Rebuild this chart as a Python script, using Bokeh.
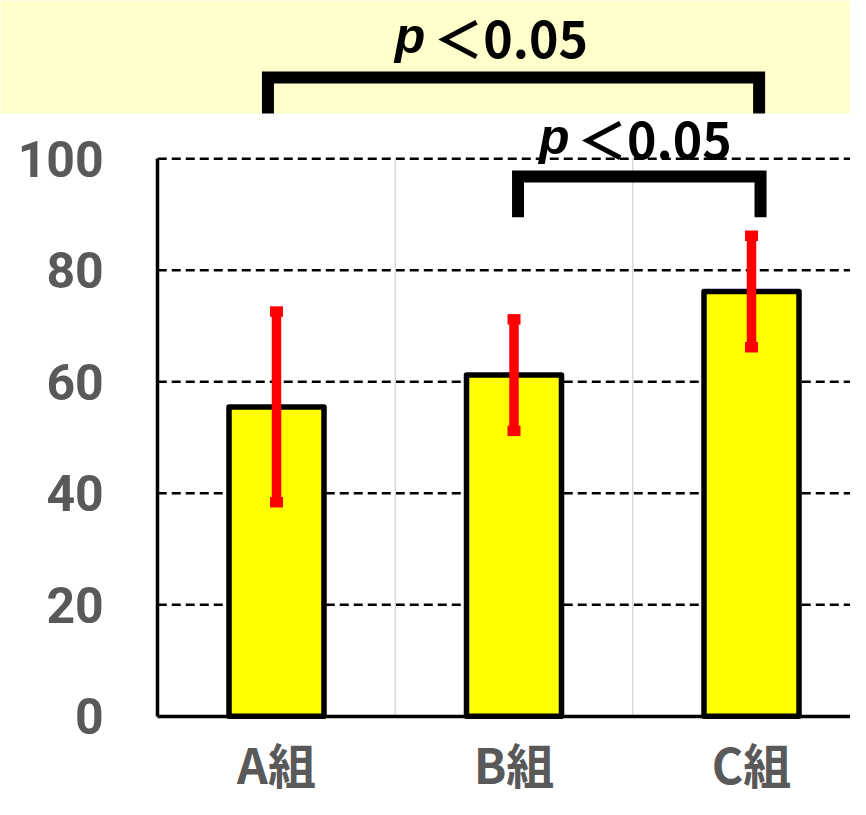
from bokeh.plotting import figure
from bokeh.models import Range1d, FixedTicker, Whisker, TeeHead, ColumnDataSource
from bokeh.core.properties import value
from bokeh.embed import file_html
from bokeh.resources import INLINE

# ---- data ----
categories = ["A組", "B組", "C組"]
means = [55.5, 61.2, 76.2]
errors = [17.1, 10.0, 10.0]
y_ticks = [0, 20, 40, 60, 80, 100]
comparisons = [(0, 2), (1, 2)]
p_symbol = ["p", "p"]
p_rest = ["＜0.05", "＜0.05"]

xs = list(range(len(categories)))
upper = [m + e for m, e in zip(means, errors)]
lower = [m - e for m, e in zip(means, errors)]

YELLOW_BG = "#FFFFCC"
X0, X1 = -1.1621, 2.4168
Y0, Y1 = -14.92, 128.39
PANEL_TOP = 108.13          # value at the top edge of the white panel
AXIS_X = xs[0] - 0.5        # y axis sits at the left edge of the first category
PAD = 1.0                   # let background bands overrun the visible range

p = figure(width=850, height=799, x_range=Range1d(X0, X1), y_range=Range1d(Y0, Y1),
           output_backend="svg", toolbar_location=None,
           min_border_left=0, min_border_right=0, min_border_top=0, min_border_bottom=0,
           background_fill_color="white", border_fill_color="white",
           outline_line_color=None)

# background band
p.quad(left=[X0 - PAD], right=[X1 + PAD], bottom=[PANEL_TOP], top=[Y1 + 10 * PAD],
       fill_color=YELLOW_BG, line_color=None)

p.grid.visible = False

# y axis
yax = p.yaxis[0]
yax.fixed_location = AXIS_X
yax.ticker = FixedTicker(ticks=y_ticks)
yax.bounds = (y_ticks[0], y_ticks[-1])
yax.axis_line_width = 3.5
yax.axis_line_color = "black"
yax.major_tick_line_color = None
yax.minor_tick_line_color = None
yax.major_tick_out = 0
yax.major_tick_in = 0
yax.minor_tick_out = 0
yax.minor_tick_in = 0
yax.major_label_standoff = 54
yax.major_label_text_font = "Roboto"
yax.major_label_text_font_style = "bold"
yax.major_label_text_font_size = "50px"
yax.major_label_text_color = "#595959"

# x axis
xax = p.xaxis[0]
xax.fixed_location = 0
xax.bounds = (AXIS_X, X1)
xax.ticker = FixedTicker(ticks=xs)
xax.major_label_overrides = {i: c for i, c in zip(xs, categories)}
xax.axis_line_width = 3.5
xax.axis_line_color = "black"
xax.major_tick_line_color = None
xax.minor_tick_line_color = None
xax.major_tick_out = 0
xax.major_tick_in = 0
xax.minor_tick_out = 0
xax.minor_tick_in = 0
xax.major_label_standoff = 12
xax.major_label_text_font = "Noto Sans CJK JP"
xax.major_label_text_font_style = "bold"
xax.major_label_text_font_size = "48px"
xax.major_label_text_color = "#595959"

# dashed horizontal gridlines, starting at the y axis
n = len(y_ticks)
p.segment(x0=[AXIS_X] * n, y0=y_ticks, x1=[X1 + PAD] * n, y1=y_ticks,
          line_color="black", line_width=2.5, line_dash="9 5")

# category separators
seps = [i + 0.5 for i in xs[:-1]]
p.segment(x0=seps, y0=[y_ticks[0]] * len(seps), x1=seps, y1=[y_ticks[-1]] * len(seps),
          line_color="#D9D9D9", line_width=1.5)

# bars
p.vbar(x=xs, top=means, bottom=0, width=0.4, fill_color="#FFFF00",
       line_color="black", line_width=5.5, line_join="round")

# error bars
src = ColumnDataSource(dict(base=xs, upper=upper, lower=lower))
wh = Whisker(source=src, base="base", upper="upper", lower="lower", level="overlay",
             line_color="#FF0000", line_width=9.5, line_cap="butt",
             upper_head=TeeHead(size=13, line_color="#FF0000", line_width=10.5),
             lower_head=TeeHead(size=13, line_color="#FF0000", line_width=10.5))
p.add_layout(wh)

# significance brackets:
# (left offset, right offset, bar level, leg bottom, p right x, rest left x, text y)
layouts = [
    (-0.036, 0.032, 114.6, PANEL_TOP, 0.627, 0.660, 122.1),
    (0.017, 0.038, 96.8, 89.5, 1.234, 1.265, 103.9),
]
for (i, j), ps, pr, (lo, ro, ybar, yleg, xp, xr, ytxt) in zip(comparisons, p_symbol, p_rest, layouts):
    x0, x1 = xs[i] + lo, xs[j] + ro
    p.line(x=[x0, x0, x1, x1], y=[yleg, ybar, ybar, yleg], line_color="black",
           line_width=12, line_join="miter", line_cap="butt")
    p.text(x=[xp], y=[ytxt], text=[ps], text_font=value("Liberation Sans"),
           text_font_style="bold italic", text_font_size="50px", text_color="black",
           text_align="right", text_baseline="alphabetic")
    p.text(x=[xr], y=[ytxt], text=[pr], text_font=value("Noto Sans CJK JP"),
           text_font_style="bold", text_font_size="50px", text_color="black",
           text_align="left", text_baseline="alphabetic")

open("out.html", "w").write(file_html(p, INLINE))
